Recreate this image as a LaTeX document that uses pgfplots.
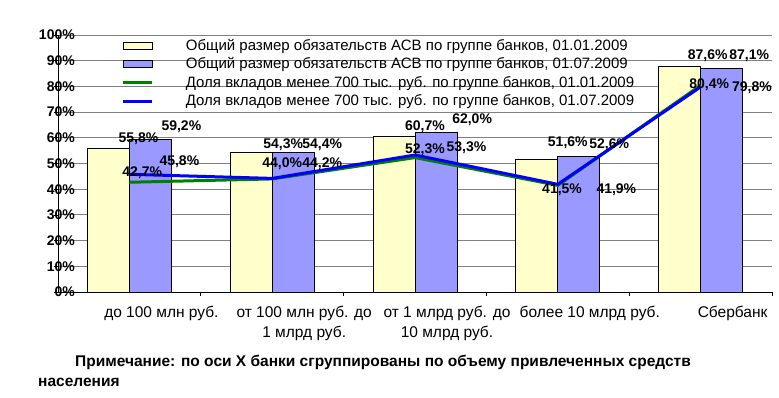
\documentclass[border=0pt]{standalone}
\usepackage{fontspec}
\setmainfont{Liberation Sans}
\usepackage{pgfplots}
\pgfplotsset{compat=1.18}
\definecolor{ylw}{HTML}{FFFFCC}
\definecolor{lav}{HTML}{9999FF}
\definecolor{grn}{HTML}{008000}
\definecolor{blu}{HTML}{0000FF}
\newcommand\lbl{\bfseries\fontsize{14}{14}\selectfont}
\begin{document}
\begin{tikzpicture}[x=1pt,y=1pt]
\useasboundingbox (0,0) rectangle (779,397);
\begin{axis}[
  at={(58pt,105pt)}, anchor=south west,
  scale only axis, width=714pt, height=257pt,
  xmin=-0.5, xmax=4.5, ymin=0, ymax=100,
  axis x line=bottom, axis y line=left,
  axis line style={-, black, line width=0.8pt},
  ymajorgrids, grid style={draw=gray, line width=0.9pt},
  ytick={0,10,...,100},
  /pgf/number format/assume math mode=true,
  yticklabel={\pgfmathprintnumber{\tick}\%},
  yticklabel style={font=\lbl, anchor=east, inner sep=0pt, xshift=21pt},
  tick align=outside, major tick length=4pt,
  tick style={black, line width=0.8pt},
  xtick={0.5,1.5,2.5,3.5,4.5}, xticklabels={},
  extra x ticks={0,1,2,3,4},
  extra x tick labels={{до 100 млн руб.},{от 100 млн руб. до\\1 млрд руб.},{от 1 млрд руб. до\\10 млрд руб.},{более 10 млрд руб.},{Сбербанк}},
  extra x tick style={major tick length=0pt, xticklabel style={font=\fontsize{15.5}{20}\selectfont, align=center, anchor=north, xshift=32pt, yshift=-11pt}},
  legend style={at={(0.085,1.0)}, anchor=north west, draw=none, fill=none,
    font=\fontsize{15}{15}\selectfont, row sep=2pt,
    /tikz/every odd column/.append style={column sep=30pt}},
  legend cell align=left,
]
\addplot[ybar, bar width=0.294, bar shift=-0.147, fill=ylw, draw=black, line width=0.8pt,
  legend image code/.code={\draw[fill=ylw,draw=black,line width=0.8pt] (0pt,-3.5pt) rectangle (29pt,3.5pt);}]
  coordinates {(0,55.8) (1,54.3) (2,60.7) (3,51.6) (4,87.6)};
\addlegendentry{Общий размер обязательств АСВ по группе банков, 01.01.2009}
\addplot[ybar, bar width=0.294, bar shift=0.147, fill=lav, draw=black, line width=0.8pt,
  legend image code/.code={\draw[fill=lav,draw=black,line width=0.8pt] (0pt,-3.5pt) rectangle (29pt,3.5pt);}]
  coordinates {(0,59.2) (1,54.4) (2,62.0) (3,52.6) (4,87.1)};
\addlegendentry{Общий размер обязательств АСВ по группе банков, 01.07.2009}
\addplot[grn, line width=3pt, sharp plot, no marks,
  legend image code/.code={\draw[grn,line width=3pt] (0pt,0pt) -- (29pt,0pt);}]
  coordinates {(0,42.7) (1,44.0) (2,52.3) (3,41.5) (4,80.4)};
\addlegendentry{Доля вкладов менее 700 тыс. руб. по группе банков, 01.01.2009}
\addplot[blu, line width=3pt, sharp plot, no marks,
  legend image code/.code={\draw[blu,line width=3pt] (0pt,0pt) -- (29pt,0pt);}]
  coordinates {(0,45.8) (1,44.2) (2,53.3) (3,41.9) (4,79.8)};
\addlegendentry{Доля вкладов менее 700 тыс. руб. по группе банков, 01.07.2009}
% bar labels
\node[font=\lbl] at (axis cs:0.063,59.5) {55,8\%};
\node[font=\lbl] at (axis cs:0.364,64.2) {59,2\%};
\node[font=\lbl] at (axis cs:1.077,57.2) {54,3\%};
\node[font=\lbl] at (axis cs:1.35,57.2) {54,4\%};
\node[font=\lbl] at (axis cs:2.07,64.2) {60,7\%};
\node[font=\lbl] at (axis cs:2.40,66.9) {62,0\%};
\node[font=\lbl] at (axis cs:3.07,58.0) {51,6\%};
\node[font=\lbl] at (axis cs:3.36,57.2) {52,6\%};
\node[font=\lbl] at (axis cs:4.05,91.8) {87,6\%};
\node[font=\lbl] at (axis cs:4.34,91.8) {87,1\%};
% line labels
\node[font=\lbl] at (axis cs:0.09,46.3) {42,7\%};
\node[font=\lbl] at (axis cs:0.35,50.6) {45,8\%};
\node[font=\lbl] at (axis cs:1.07,49.8) {44,0\%};
\node[font=\lbl] at (axis cs:1.35,49.8) {44,2\%};
\node[font=\lbl] at (axis cs:2.07,55.3) {52,3\%};
\node[font=\lbl] at (axis cs:2.36,56.0) {53,3\%};
\node[font=\lbl] at (axis cs:3.03,39.7) {41,5\%};
\node[font=\lbl] at (axis cs:3.41,39.7) {41,9\%};
\node[font=\lbl] at (axis cs:4.06,80.5) {80,4\%};
\node[font=\lbl] at (axis cs:4.36,79.4) {79,8\%};
\end{axis}
\node[anchor=west, font=\bfseries\fontsize{15.5}{15.5}\selectfont, inner sep=0pt] at (75,35) {Примечание: по оси X банки сгруппированы по объему привлеченных средств};
\node[anchor=west, font=\bfseries\fontsize{15.5}{15.5}\selectfont, inner sep=0pt] at (38,15) {населения};
\end{tikzpicture}
\end{document}
